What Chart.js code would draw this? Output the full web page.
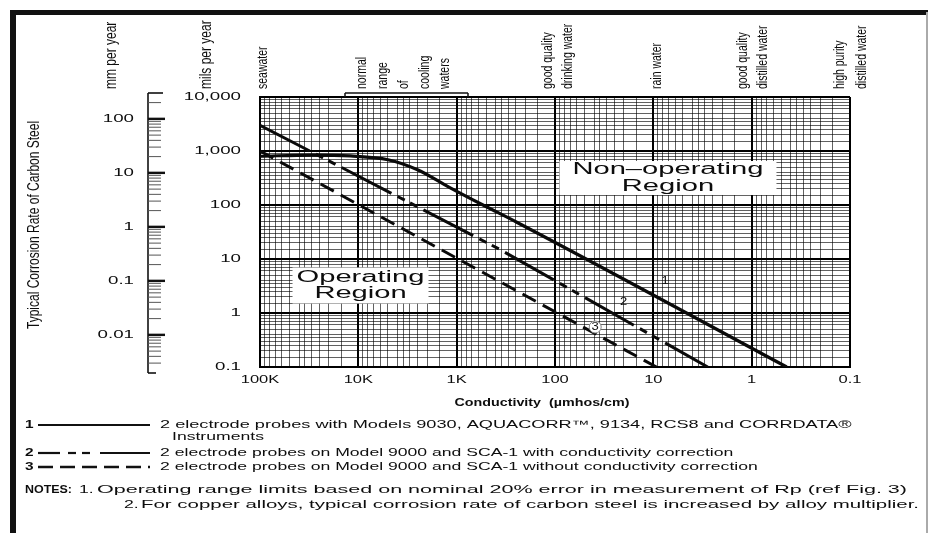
<!DOCTYPE html>
<html><head><meta charset="utf-8">
<script src="https://cdn.jsdelivr.net/npm/chart.js@4.4.0/dist/chart.umd.min.js"></script>
<style>html,body{margin:0;padding:0;background:#fff}canvas{display:block}</style>
</head><body>
<canvas id="c" width="936" height="533"></canvas>
<script>
// ---------- data (conductivity in µmhos/cm, corrosion rate in mils per year) ----------
const line1Cond = [100000, 30000, 12000, 5000, 2500, 1200, 540, 245, 0.44];
const line1Mils = [800, 840, 810, 690, 450, 215, 100, 48, 0.1];
const line2Cond = [100000, 363, 2.8];
const line2Mils = [3000, 15, 0.1];
const line3Cond = [100000, 9.3];
const line3Mils = [1000, 0.1];

const xTickValues = [100000, 10000, 1000, 100, 10, 1, 0.1];
const xTickLabels = ['100K', '10K', '1K', '100', '10', '1', '0.1'];
const yTickValues = [10000, 1000, 100, 10, 1, 0.1];
const yTickLabels = ['10,000', '1,000', '100', '10', '1', '0.1'];
const mmTickValues = [100, 10, 1, 0.1, 0.01];
const mmTickLabels = ['100', '10', '1', '0.1', '0.01'];
const MILS_PER_MM = 39.37;
const gridMultiples = [1, 1.5, 2, 2.5, 3, 3.5, 4, 5, 6, 7, 8, 9];

const legendTexts = [
  '2 electrode probes with Models 9030, AQUACORR\u2122, 9134, RCS8 and CORRDATA\u00AE',
  '2 electrode probes on Model 9000 and SCA-1 with conductivity correction',
  '2 electrode probes on Model 9000 and SCA-1 without conductivity correction'
];
const notes = [
  'Operating range limits based on nominal 20% error in measurement of Rp (ref Fig. 3)',
  'For copper alloys, typical corrosion rate of carbon steel is increased by alloy multiplier.'
];
const topLabels = [
  { lines: ['seawater'], x: 263, step: 20 },
  { lines: ['normal', 'range', 'of', 'cooling', 'waters'], x: 362, step: 20.8 },
  { lines: ['good quality', 'drinking water'], x: 548, step: 20 },
  { lines: ['rain water'], x: 657, step: 20 },
  { lines: ['good quality', 'distilled water'], x: 743, step: 20 },
  { lines: ['high purity', 'distilled water'], x: 840, step: 22 }
];
const regionLabels = [
  { lines: ['Non\u2013operating', 'Region'], cond: 7.1, mils: 316, w: 217, h: 34 },
  { lines: ['Operating', 'Region'], cond: 9500, mils: 3.23, w: 136, h: 36 }
];
const curveLabels = [
  { t: '1', cond: 7.6, mils: 3.9 },
  { t: '2', cond: 20, mils: 1.55 },
  { t: '3', cond: 39, mils: 0.55, halo: true }
];

// ---------- helpers ----------
const FONT = '"Liberation Sans", Arial, Helvetica, sans-serif';
const SX = 1.62;
function txt(ctx, s, x, y, o = {}) {
  ctx.save();
  ctx.font = (o.weight || 'normal') + ' ' + (o.size || 11) + 'px ' + FONT;
  ctx.fillStyle = o.color || '#0d0d0d';
  ctx.textAlign = o.align || 'left';
  ctx.textBaseline = o.baseline || 'middle';
  ctx.translate(x, y);
  if (o.rot) { ctx.scale(o.sx || 1.35, 1); ctx.rotate(-Math.PI / 2); }
  else {
    let sx = o.sx || SX;
    if (o.width) sx = o.width / ctx.measureText(s).width;
    ctx.scale(sx, 1);
  }
  ctx.fillText(s, 0, 0);
  ctx.restore();
}
const isDecade = v => Math.abs(Math.log10(v) - Math.round(Math.log10(v))) < 1e-6;
function gridValues(lo, hi) {
  const out = [];
  for (let e = Math.round(Math.log10(lo)); e < Math.round(Math.log10(hi)); e++)
    for (const m of gridMultiples) out.push(m * Math.pow(10, e));
  out.push(hi);
  return out;
}
const toPts = (xs, ys) => xs.map((x, i) => ({ x: x, y: ys[i] }));
function seg(ctx, x1, y1, x2, y2, w, col) {
  ctx.beginPath(); ctx.moveTo(x1, y1); ctx.lineTo(x2, y2);
  ctx.lineWidth = w; ctx.strokeStyle = col || '#111'; ctx.stroke();
}

// ---------- plugin for page decorations ----------
const deco = {
  id: 'deco',
  beforeDraw(chart) {
    const c = chart.ctx;
    c.save(); c.fillStyle = '#fff'; c.fillRect(0, 0, chart.width, chart.height); c.restore();
  },
  beforeDatasetsDraw(chart) {
    const c = chart.ctx, xs = chart.scales.x, ys = chart.scales.y;
    c.save();
    regionLabels.forEach(r => {
      const cx = xs.getPixelForValue(r.cond), cy = ys.getPixelForValue(r.mils);
      c.fillStyle = '#fff';
      c.fillRect(cx - r.w / 2, cy - r.h / 2, r.w, r.h);
      const lh = 16.5;
      r.lines.forEach((l, i) => txt(c, l, cx, cy + (i - (r.lines.length - 1) / 2) * lh,
        { size: 16, align: 'center', sx: 1.82 }));
    });
    c.restore();
  },
  afterDraw(chart) {
    const c = chart.ctx, xs = chart.scales.x, ys = chart.scales.y;
    c.save();
    // curve number labels
    curveLabels.forEach(l => {
      const px = xs.getPixelForValue(l.cond), py = ys.getPixelForValue(l.mils);
      if (l.halo) {
        c.beginPath(); c.arc(px, py, 6, 0, Math.PI * 2); c.fillStyle = '#fff'; c.fill();
        c.lineWidth = 1; c.strokeStyle = '#888'; c.stroke();
      }
      txt(c, l.t, px, py, { size: 10, align: 'center', sx: 1.3 });
    });
    // y (mils) tick labels
    yTickValues.forEach((v, i) => txt(c, yTickLabels[i], 241, ys.getPixelForValue(v), { size: 11, align: 'right', sx: 1.7 }));
    // x tick labels
    xTickValues.forEach((v, i) => txt(c, xTickLabels[i], xs.getPixelForValue(v), 380, { size: 11, align: 'center', sx: 1.5 }));
    // x title
    txt(c, 'Conductivity  (\u00B5mhos/cm)', 542, 403, { size: 10.5, weight: 'bold', align: 'center', width: 175 });
    // mm per year ruler
    const rx = 148;
    seg(c, rx, 93, rx, 373, 1.6);
    seg(c, rx, 373, rx + 8, 373, 1.6);
    seg(c, rx, 93, rx + 15, 93, 1.6);
    for (let e = -3; e <= 2; e++) {
      for (let k = 1; k <= 9; k++) {
        const mm = k * Math.pow(10, e);
        const y = ys.getPixelForValue(mm * MILS_PER_MM);
        if (y < 95 || y > 371) continue;
        if (k === 1) seg(c, rx, y, rx + 17, y, 2.4, '#111');
        else seg(c, rx, y, rx + 13, y, 1, '#555');
      }
    }
    mmTickValues.forEach((v, i) => txt(c, mmTickLabels[i], 134, ys.getPixelForValue(v * MILS_PER_MM), { size: 11, align: 'right', sx: 1.7 }));
    // rotated axis titles
    txt(c, 'mm per year', 111, 89, { size: 12, rot: true, sx: 1.45 });
    txt(c, 'mils per year', 206, 89, { size: 12, rot: true, sx: 1.45 });
    txt(c, 'Typical Corrosion Rate of Carbon Steel', 35, 329, { size: 12, rot: true });
    // water-type labels above the plot
    topLabels.forEach(g => g.lines.forEach((l, i) => txt(c, l, g.x + i * g.step, 89, { size: 10.5, rot: true, sx: 1.45 })));
    // bracket for cooling waters
    seg(c, 345, 93, 468, 93, 1.5);
    seg(c, 345, 93, 345, 97, 1.5);
    seg(c, 468, 93, 468, 97, 1.5);
    // legend
    const rows = [425, 453, 467];
    ['1', '2', '3'].forEach((n, i) => txt(c, n, 25, rows[i], { size: 11, weight: 'bold', sx: 1.4 }));
    seg(c, 38, 425, 150, 425, 2.2);
    [[38, 60], [68, 76], [82, 90], [100, 150]].forEach(s => seg(c, s[0], 453, s[1], 453, 2.2));
    c.setLineDash([15, 7]); seg(c, 38, 467, 150, 467, 2.4); c.setLineDash([]);
    txt(c, legendTexts[0], 160, 425, { size: 11, sx: 1.65 });
    txt(c, 'Instruments', 172, 437, { size: 11, sx: 1.6 });
    txt(c, legendTexts[1], 160, 453, { size: 11, sx: 1.6 });
    txt(c, legendTexts[2], 160, 467, { size: 11, sx: 1.6 });
    // notes
    txt(c, 'NOTES:', 25, 490, { size: 11, weight: 'bold', width: 47 });
    txt(c, '1.', 79, 490, { size: 11, sx: 1.6 });
    txt(c, notes[0], 97, 490, { size: 11, width: 810 });
    txt(c, '2.', 124, 505, { size: 11, sx: 1.6 });
    txt(c, notes[1], 141, 505, { size: 11, width: 778 });
    // page frame
    c.fillStyle = '#111';
    c.fillRect(10, 10, 6, 523);
    c.fillRect(10, 10, 918, 5);
    c.fillStyle = '#aaa';
    c.fillRect(926, 12, 2, 521);
    c.restore();
  }
};

// ---------- chart ----------
const gridColor = c => (c.tick && isDecade(c.tick.value)) ? '#000' : 'rgba(0,0,0,0.62)';
const gridWidth = c => (c.tick && isDecade(c.tick.value)) ? 2 : 1;

new Chart(document.getElementById('c'), {
  type: 'line',
  data: {
    datasets: [
      { data: toPts(line1Cond, line1Mils), borderColor: '#0a0a0a', borderWidth: 3.2, pointRadius: 0, cubicInterpolationMode: 'monotone', fill: false },
      { data: toPts(line2Cond, line2Mils), borderColor: '#0a0a0a', borderWidth: 3, borderDash: [56, 7, 8, 6, 8, 7], pointRadius: 0, fill: false },
      { data: toPts(line3Cond, line3Mils), borderColor: '#0a0a0a', borderWidth: 3, borderDash: [15, 8], pointRadius: 0, fill: false }
    ]
  },
  options: {
    responsive: false,
    animation: false,
    devicePixelRatio: 1,
    layout: { padding: { top: 97, right: 86, left: 0, bottom: 0 } },
    plugins: { legend: { display: false }, tooltip: { enabled: false } },
    scales: {
      x: {
        type: 'logarithmic', reverse: true, min: 0.1, max: 100000,
        afterBuildTicks: s => { s.ticks = gridValues(0.1, 100000).map(v => ({ value: v })); },
        afterFit: s => { s.height = 166; },
        ticks: { display: false },
        grid: { drawTicks: false, color: gridColor, lineWidth: gridWidth },
        border: { display: true, color: '#000', width: 2 }
      },
      y: {
        type: 'logarithmic', min: 0.1, max: 10000,
        afterBuildTicks: s => { s.ticks = gridValues(0.1, 10000).map(v => ({ value: v })); },
        afterFit: s => { s.width = 260; },
        ticks: { display: false },
        grid: { drawTicks: false, color: gridColor, lineWidth: gridWidth },
        border: { display: true, color: '#000', width: 2 }
      }
    }
  },
  plugins: [deco]
});
</script>
</body></html>
